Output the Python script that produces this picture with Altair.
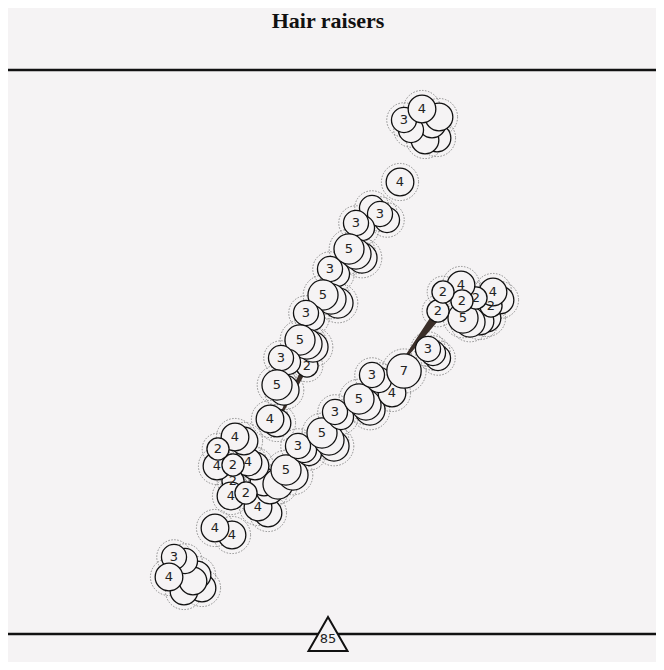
import altair as alt
import pandas as pd

BG = "#f5f3f4"
INK = "#111111"

# ---- circles (reference pixel positions), value n, shown label ----
cx = [437, 425, 432, 439, 411, 404, 422,
      400,
      387, 372, 380, 362, 356,
      362, 356, 349, 337, 330,
      338, 331, 323, 312, 306,
      307, 313, 307, 300, 288, 281,
      284, 277, 277, 270,
      268, 258, 232, 215,
      270, 264, 255, 248, 244, 235,
      233, 231, 246, 217, 233, 218,
      278, 293, 286, 309, 304, 298,
      334, 329, 322, 341, 335,
      370, 366, 359, 392, 379, 372, 404,
      438, 433, 428,
      487, 480, 470, 500,
      463, 491, 493, 476, 461, 462, 438, 443,
      202, 184, 197, 193, 185, 174, 169]
cy = [138, 140, 124, 117, 130, 120, 109,
      182,
      220, 208, 214, 228, 223,
      258, 254, 249, 274, 269,
      303, 299, 295, 318, 313,
      366, 347, 344, 340, 362, 358,
      390, 385, 423, 419,
      513, 507, 535, 528,
      490, 482, 466, 462, 441, 437,
      481, 496, 493, 466, 465, 449,
      484, 475, 470, 453, 450, 446,
      446, 440, 433, 417, 412,
      410, 405, 399, 393, 380, 375, 371,
      358, 353, 349,
      318, 321, 322, 300,
      318, 306, 292, 298, 285, 301, 311, 292,
      588, 591, 575, 581, 561, 557, 577]
cn = [4, 4, 4, 4, 3, 3, 4,
      4,
      3, 3, 3, 3, 3,
      5, 5, 5, 3, 3,
      5, 5, 5, 3, 3,
      2, 5, 5, 5, 3, 3,
      5, 5, 4, 4,
      4, 4, 4, 4,
      4, 4, 4, 4, 4, 4,
      2, 4, 2, 4, 2, 2,
      5, 5, 5, 3, 3, 3,
      5, 5, 5, 3, 3,
      5, 5, 5, 4, 3, 3, 7,
      3, 3, 3,
      4, 4, 5, 4,
      5, 2, 4, 2, 4, 2, 2, 2,
      4, 4, 4, 4, 3, 3, 4]
clab = ["", "", "", "", "", "3", "4",
        "4",
        "", "", "3", "", "3",
        "", "", "5", "", "3",
        "", "", "5", "", "3",
        "2", "", "", "5", "", "3",
        "", "5", "", "4",
        "", "4", "4", "4",
        "", "", "", "4", "", "4",
        "2", "4", "2", "4", "2", "2",
        "", "", "5", "", "", "3",
        "", "", "5", "", "3",
        "", "", "5", "4", "", "3", "7",
        "", "", "3",
        "", "", "", "",
        "5", "2", "4", "2", "4", "2", "2", "2",
        "", "", "", "", "", "3", "4"]

# ---- track pieces ----
track_id = ["left", "left", "right", "right"]
track_x = [280, 305, 405, 438]
track_y = [416, 368, 358, 314]
track_w = [0.1, 0.5, 0.1, 1.0]

# ---- frame ----
rule_y = [70, 634]
marker_x = [328]
marker_y = [634]
marker_label = ["85"]
title_text = ["Hair raisers"]
title_x = [328]
title_y = [28]

circles = pd.DataFrame({"x": cx, "y": cy, "n": cn, "label": clab})
circles["order"] = range(len(circles))
track = pd.DataFrame({"id": track_id, "x": track_x, "y": track_y, "w": track_w})
track["order"] = range(len(track))
rules = pd.DataFrame({"y": rule_y})
marker = pd.DataFrame({"x": marker_x, "y": marker_y, "label": marker_label})
titles = pd.DataFrame({"x": title_x, "y": title_y, "t": title_text})

X = alt.X("x:Q", scale=alt.Scale(domain=[8, 656], nice=False, zero=False), axis=None)
Y = alt.Y("y:Q", scale=alt.Scale(domain=[8, 662], nice=False, zero=False, reverse=True), axis=None)

halos = alt.Chart(circles).mark_point(
    shape="circle", filled=False, stroke="#8c8c8c", strokeWidth=1, strokeDash=[1.5, 1.5], opacity=1
).encode(
    x=X, y=Y,
    size=alt.Size("n:Q", scale=alt.Scale(domain=[2, 7], range=[1000, 1950]), legend=None),
    order=alt.Order("order:Q"),
)

trail = alt.Chart(track).mark_trail(color="#3a2e28").encode(
    x=X, y=Y, detail="id:N",
    size=alt.Size("w:Q", scale=alt.Scale(domain=[0, 1], range=[1.5, 9]), legend=None),
    order=alt.Order("order:Q"),
)

discs = alt.Chart(circles).mark_circle(
    fill=BG, stroke=INK, strokeWidth=1.3, opacity=1, fillOpacity=1
).encode(
    x=X, y=Y,
    size=alt.Size("n:Q", scale=alt.Scale(domain=[2, 7], range=[490, 1180]), legend=None),
    order=alt.Order("order:Q"),
)

labels = alt.Chart(circles).transform_filter("datum.label != ''").mark_text(
    font="DejaVu Sans", fontSize=13, color="#222222", baseline="middle", align="center"
).encode(x=X, y=Y, text="label:N")

lines = alt.Chart(rules).mark_rule(color=INK, strokeWidth=2.5).encode(
    y=Y, x=alt.value(0), x2=alt.value(648)
)

tri = alt.Chart(marker).mark_point(
    shape="triangle-up", size=1520, filled=True, fill=BG, stroke=INK, strokeWidth=2, opacity=1
).encode(x=X, y=Y)

tri_text = alt.Chart(marker).mark_text(
    font="DejaVu Sans", fontSize=13, color="#222222", dy=5
).encode(x=X, y=Y, text="label:N")

title = alt.Chart(titles).mark_text(
    font="Liberation Serif", fontWeight="bold", fontSize=22, color=INK, baseline="alphabetic"
).encode(x=X, y=Y, text="t:N")

chart = alt.layer(
    halos, trail, discs, labels, lines, tri, tri_text, title
).resolve_scale(size="independent").properties(
    width=648, height=654, background=BG, padding=0,
    autosize=alt.AutoSizeParams(type="none"),
).configure_view(stroke=None)

chart.save("out.html", embed_options={"renderer": "svg", "actions": False})
